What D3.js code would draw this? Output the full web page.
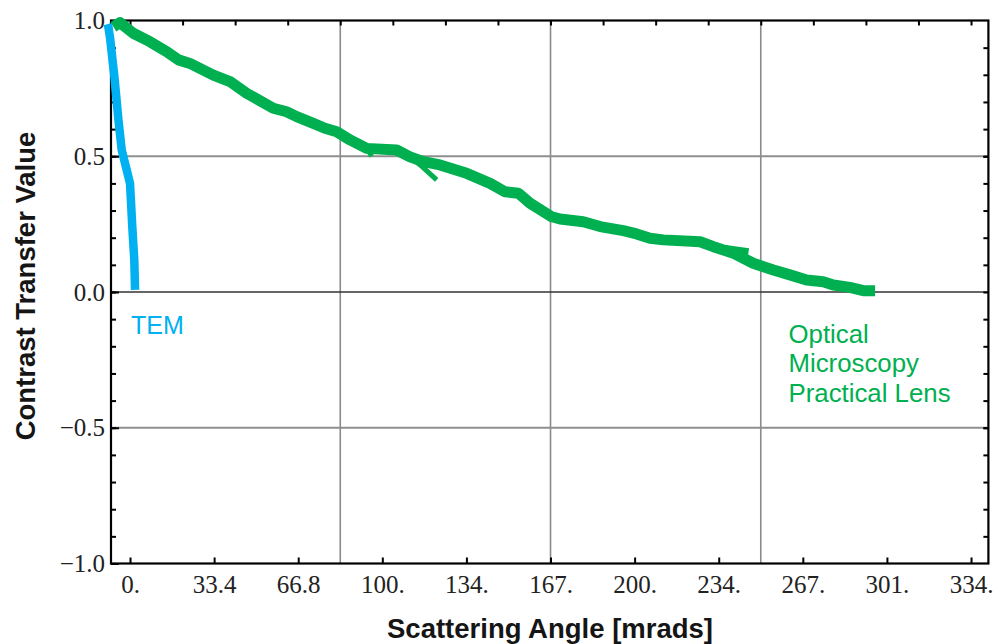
<!DOCTYPE html>
<html>
<head>
<meta charset="utf-8">
<script src="https://cdn.jsdelivr.net/npm/d3@7"></script>
<style>
  html, body { margin: 0; padding: 0; background: #fff; }
  svg { display: block; }
</style>
</head>
<body>
<svg id="chart" width="1002" height="644"></svg>
<script>
// ---- data ----
const xTickValues = [0, 33.4, 66.8, 100.2, 133.6, 167, 200.4, 233.8, 267.2, 300.6, 334];
const xTickLabels = ["0.", "33.4", "66.8", "100.", "134.", "167.", "200.", "234.", "267.", "301.", "334."];
const yTickValues = [-1, -0.5, 0, 0.5, 1];
const yTickLabels = ["\u22121.0", "\u22120.5", "0.0", "0.5", "1.0"];
const xGridValues = [83.5, 167, 250.5];
const yGridValues = [-0.5, 0.5];
const topTickValues = d3.range(0, 17).map(k => k * 20.875);
const yMinorValues = d3.range(-9, 10).map(k => k / 10);

// TEM curve [angle, value]
const temCurve = [
  [-8.9, 0.987], [-8.6, 0.977], [-7.9, 0.934], [-6.2, 0.793], [-4.6, 0.634],
  [-3.3, 0.523], [-1.3, 0.449], [0.0, 0.400], [0.9, 0.241], [1.7, 0.118], [2.0, 0.008]
];
// Optical microscopy practical lens curve [angle, value]
const opticalCurve = [
  [-6.6, 0.977], [-4.0, 0.992], [1.3, 0.953], [7.9, 0.922], [14.6, 0.885],
  [19.2, 0.855], [23.8, 0.842], [33.1, 0.799], [39.7, 0.775], [46.3, 0.732],
  [56.9, 0.677], [62.2, 0.664], [66.2, 0.646], [72.8, 0.621], [77.4, 0.603],
  [82.1, 0.590], [87.4, 0.560], [94.0, 0.529], [105.9, 0.523], [111.2, 0.498],
  [116.5, 0.480], [123.1, 0.468], [133.7, 0.437], [143.0, 0.400], [148.9, 0.369],
  [154.2, 0.364], [158.9, 0.327], [167.5, 0.277], [170.8, 0.269], [180.0, 0.259],
  [186.7, 0.241], [195.9, 0.226], [201.2, 0.214], [206.5, 0.198], [211.8, 0.192],
  [226.4, 0.185], [231.7, 0.167], [239.6, 0.143], [247.5, 0.106], [255.5, 0.081],
  [262.1, 0.063], [268.7, 0.044], [275.3, 0.038], [279.3, 0.026], [285.9, 0.017],
  [291.2, 0.005], [295.9, 0.005]
];
// small stray pen strokes of the hand-drawn green curve
const opticalStrokes = [
  [[94.0, 0.529], [96.0, 0.500]],
  [[111.2, 0.498], [116.0, 0.462], [121.8, 0.413]],
  [[236.5, 0.157], [245.6, 0.145]]
];
const temLabel = ["TEM"];
const opticalLabel = ["Optical", "Microscopy", "Practical Lens"];
const xTitle = "Scattering Angle [mrads]";
const yTitle = "Contrast Transfer Value";

// ---- layout ----
const svg = d3.select("#chart");
const pLeft = 111, pRight = 988.4, pTop = 20.5, pBottom = 563.5;
const x = d3.scaleLinear().domain([-7.55, 340.9]).range([pLeft, pRight]);
const y = d3.scaleLinear().domain([-1, 1]).range([pBottom, pTop]);

const green = "#00b050", blue = "#00b0f0";

// gridlines
svg.append("g").selectAll("line").data(xGridValues).join("line")
  .attr("x1", d => x(d)).attr("x2", d => x(d))
  .attr("y1", pTop).attr("y2", pBottom)
  .attr("stroke", "#8a8a8a").attr("stroke-width", 1.6);
svg.append("g").selectAll("line").data(yGridValues).join("line")
  .attr("x1", pLeft).attr("x2", pRight)
  .attr("y1", d => y(d)).attr("y2", d => y(d))
  .attr("stroke", "#8f8f8f").attr("stroke-width", 2);
svg.append("line")
  .attr("x1", pLeft).attr("x2", pRight).attr("y1", y(0)).attr("y2", y(0))
  .attr("stroke", "#333").attr("stroke-width", 1.6);

// axes
const serif = "'Liberation Serif', 'Times New Roman', serif";
function styleAxis(g) {
  g.select(".domain").remove();
  g.selectAll(".tick line").attr("stroke", "#000").attr("stroke-width", 2);
  g.selectAll(".tick text").attr("font-family", serif).attr("font-size", 25).attr("fill", "#222");
}

svg.append("g").attr("transform", `translate(0,${pBottom})`)
  .call(d3.axisBottom(x).tickValues(xTickValues).tickFormat((d, i) => xTickLabels[i])
    .tickSizeInner(-6).tickSizeOuter(0).tickPadding(12))
  .call(styleAxis);

svg.append("g").attr("transform", `translate(0,${pTop})`)
  .call(d3.axisTop(x).tickValues(topTickValues).tickFormat("").tickSizeInner(-5).tickSizeOuter(0))
  .call(styleAxis);

svg.append("g").attr("transform", `translate(${pLeft},0)`)
  .call(d3.axisLeft(y).tickValues(yMinorValues).tickFormat("").tickSizeInner(-5).tickSizeOuter(0))
  .call(styleAxis);

svg.append("g").attr("transform", `translate(${pLeft},0)`)
  .call(d3.axisLeft(y).tickValues(yTickValues).tickFormat((d, i) => yTickLabels[i])
    .tickSizeInner(-8).tickSizeOuter(0).tickPadding(6))
  .call(styleAxis);

svg.append("g").attr("transform", `translate(${pRight},0)`)
  .call(d3.axisRight(y).tickValues(yMinorValues.concat([-0.5, 0.5])).tickFormat("").tickSizeInner(-5).tickSizeOuter(0))
  .call(styleAxis);

// frame
svg.append("rect")
  .attr("x", pLeft).attr("y", pTop).attr("width", pRight - pLeft).attr("height", pBottom - pTop)
  .attr("fill", "none").attr("stroke", "#000").attr("stroke-width", 2.2);

// axis titles
const sans = "'Liberation Sans', Arial, sans-serif";
svg.append("text").text(xTitle)
  .attr("x", 550).attr("y", 638)
  .attr("text-anchor", "middle").attr("font-family", sans).attr("font-weight", "bold")
  .attr("font-size", 27.5).attr("fill", "#151515");
svg.append("text").text(yTitle)
  .attr("transform", "translate(35,286) rotate(-90)")
  .attr("text-anchor", "middle").attr("font-family", sans).attr("font-weight", "bold")
  .attr("font-size", 27.5).attr("fill", "#151515");

// curves
const line = d3.line().x(d => x(d[0])).y(d => y(d[1])).curve(d3.curveLinear);
svg.append("path").datum(opticalCurve).attr("d", line)
  .attr("fill", "none").attr("stroke", green).attr("stroke-width", 11)
  .attr("stroke-linejoin", "round").attr("stroke-linecap", "butt");
svg.append("g").selectAll("path").data(opticalStrokes).join("path")
  .attr("d", line).attr("fill", "none").attr("stroke", green)
  .attr("stroke-width", (d, i) => i === 2 ? 9 : 5)
  .attr("stroke-linejoin", "round").attr("stroke-linecap", "butt");
svg.append("path").datum(temCurve).attr("d", line)
  .attr("fill", "none").attr("stroke", blue).attr("stroke-width", 8.5)
  .attr("stroke-linejoin", "round").attr("stroke-linecap", "butt");

// curve labels
svg.append("text").text(temLabel[0])
  .attr("x", 131).attr("y", 333.5)
  .attr("font-family", sans).attr("font-size", 25).attr("fill", blue);
svg.append("g").selectAll("text").data(opticalLabel).join("text")
  .text(d => d)
  .attr("x", 788.5).attr("y", (d, i) => 342.5 + i * 29.7)
  .attr("font-family", sans).attr("font-size", 25.8).attr("fill", green);
</script>
</body>
</html>
